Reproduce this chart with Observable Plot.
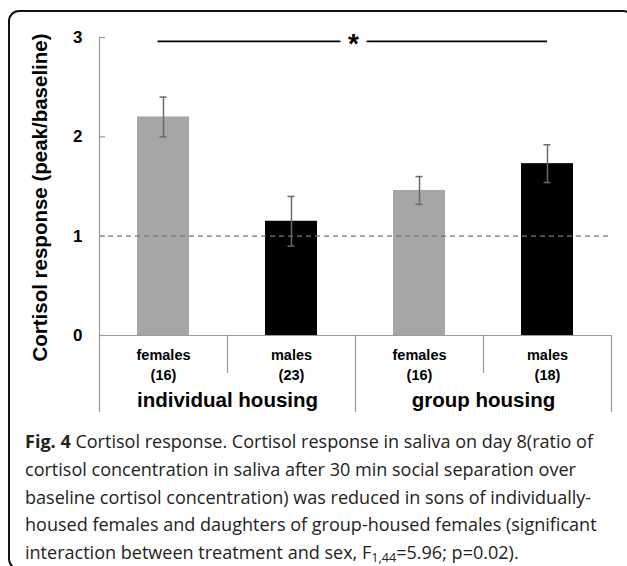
<!DOCTYPE html>
<html>
<head>
<meta charset="utf-8">
<script src="https://cdn.jsdelivr.net/npm/d3@7"></script>
<script src="https://cdn.jsdelivr.net/npm/@observablehq/plot@0.6"></script>
<style>
  html, body { margin: 0; padding: 0; background: #fff; }
  body { width: 627px; height: 566px; position: relative; overflow: hidden; }
  #frame { position: absolute; left: 8px; top: 10px; width: 626px; height: 560px; box-sizing: border-box;
           border: 2px solid #111; border-radius: 11px; }
  #chart { position: absolute; left: 0; top: 0; }
  #caption { position: absolute; left: 25px; top: 428px; font-family: "Open Sans", sans-serif;
             font-size: 18.05px; line-height: 27.75px; color: #222; white-space: nowrap; }
  #caption b { font-weight: 700; }
  sub { font-size: 0.7em; vertical-align: -0.25em; line-height: 0; }
</style>
</head>
<body>
<div id="frame"></div>
<div id="chart"></div>
<div id="caption"></div>
<script>
// ---- data ----
const categories = ["F-ind", "M-ind", "F-grp", "M-grp"];
const sexLabels = ["females", "males", "females", "males"];
const nLabels = ["(16)", "(23)", "(16)", "(18)"];
const sexes = ["female", "male", "female", "male"];
const means = [2.20, 1.15, 1.46, 1.73];
const errors = [0.20, 0.25, 0.14, 0.19];
const groupNames = ["individual housing", "group housing"];
const groupStartIndex = [0, 2];
const yTicks = [0, 1, 2, 3];
const baselineLevel = 1;
const sigLevel = 2.96;
const sigFrom = 0, sigTo = 3;
const yLabel = "Cortisol response (peak/baseline)";
const captionLines = [
  "<b>Fig. 4</b> Cortisol response. Cortisol response in saliva on day 8(ratio of",
  "cortisol concentration in saliva after 30 min social separation over",
  "baseline cortisol concentration) was reduced in sons of individually-",
  "housed females and daughters of group-housed females (significant",
  "interaction between treatment and sex, F<sub>1,44</sub>=5.96; p=0.02)."
];

const rows = categories.map((c, i) => ({
  cat: c, sex: sexes[i], mean: means[i], lo: means[i] - errors[i], hi: means[i] + errors[i],
  label: sexLabels[i] + "\n" + nLabels[i]
}));
const groups = groupNames.map((g, i) => ({name: g, cat: categories[groupStartIndex[i] + 1]}));

// ---- layout ----
const W = 627, H = 420;
const mL = 99, mR = 16, mT = 37, mB = 8;
const y0px = 335;
const step = (W - mL - mR) / categories.length;
const font = "'Liberation Sans', Arial, Helvetica, sans-serif";
const grey = "#9a9a9a";
const frameMid = (mT + H - mB) / 2;

const chart = Plot.plot({
  width: W, height: H,
  marginLeft: mL, marginRight: mR, marginTop: mT, marginBottom: mB,
  style: {fontFamily: font, background: "transparent", overflow: "visible"},
  x: {type: "band", domain: categories, paddingInner: 0.59, paddingOuter: 0.295, align: 0.5, axis: null},
  y: {domain: [0, 3], range: [y0px, mT], axis: null},
  color: {domain: ["female", "male"], range: ["#a6a6a6", "#000000"]},
  marks: [
    // bars
    Plot.barY(rows, {x: "cat", y: "mean", fill: "sex"}),
    // baseline dashed
    Plot.ruleY([baselineLevel], {stroke: "#777", strokeWidth: 1.3, strokeDasharray: "5,4", insetRight: 3}),
    // x axis line
    Plot.ruleY([0], {stroke: grey, strokeWidth: 1.2}),
    // separators (left edges of each band)
    Plot.ruleX([categories[0]], {x: d => d, dx: -step / 2, stroke: grey, strokeWidth: 1.2}),
    Plot.ruleX([categories[1], categories[3]], {x: d => d, dx: -step / 2, stroke: grey, strokeWidth: 1.2,
      insetTop: y0px - mT, insetBottom: 39}),
    Plot.ruleX([categories[2]], {x: d => d, dx: -step / 2, stroke: grey, strokeWidth: 1.2,
      insetTop: y0px - mT}),
    Plot.ruleX([categories[3]], {x: d => d, dx: step / 2, stroke: grey, strokeWidth: 1.2,
      insetTop: y0px - mT}),
    // y ticks (inward)
    Plot.ruleY(yTicks, {stroke: grey, strokeWidth: 1.2, insetRight: (W - mL - mR) - 6}),
    // y tick labels
    Plot.text(yTicks, {y: d => d, frameAnchor: "left", dx: -17, textAnchor: "end", text: d => String(d),
      fontSize: 17, fontWeight: "bold", fill: "#000"}),
    // y label
    Plot.text([yLabel], {frameAnchor: "left", textAnchor: "middle", dx: -59, dy: 197 - frameMid,
      rotate: -90, text: d => d, fontSize: 20.5, fontWeight: "bold", fill: "#000"}),
    // error bars
    Plot.ruleX(rows, {x: "cat", y1: "lo", y2: "hi", stroke: "#6a6a6a", strokeWidth: 1.5}),
    Plot.tickY(rows, {x: "cat", y: "lo", stroke: "#6a6a6a", strokeWidth: 1.5, insetLeft: 22.5, insetRight: 22.5}),
    Plot.tickY(rows, {x: "cat", y: "hi", stroke: "#6a6a6a", strokeWidth: 1.5, insetLeft: 22.5, insetRight: 22.5}),
    // category labels
    Plot.text(rows, {x: "cat", y: 0, text: "label", dy: 28, lineAnchor: "middle", lineHeight: 1.38,
      fontSize: 14.5, fontWeight: "bold", fill: "#000"}),
    // group labels
    Plot.text(groups, {x: "cat", y: 0, dx: -step / 2, dy: 65, text: "name", lineAnchor: "middle",
      fontSize: 20.5, fontWeight: "bold", fill: "#000"}),
    // significance line
    Plot.ruleY([sigLevel], {y: d => d, x1: () => categories[sigFrom], x2: () => categories[sigTo],
      stroke: "#000", strokeWidth: 1.8, insetLeft: 20.5, insetRight: 26}),
    Plot.text([sigLevel], {y: d => d, x: () => categories[2], dx: -step / 2 - 2, dy: 3, text: () => "*",
      fontSize: 28, fontWeight: "bold", fill: "#000", stroke: "#fff", strokeWidth: 16, lineAnchor: "middle"})
  ]
});
document.getElementById("chart").appendChild(chart);
document.getElementById("caption").innerHTML = captionLines.join("<br>");
</script>
</body>
</html>
